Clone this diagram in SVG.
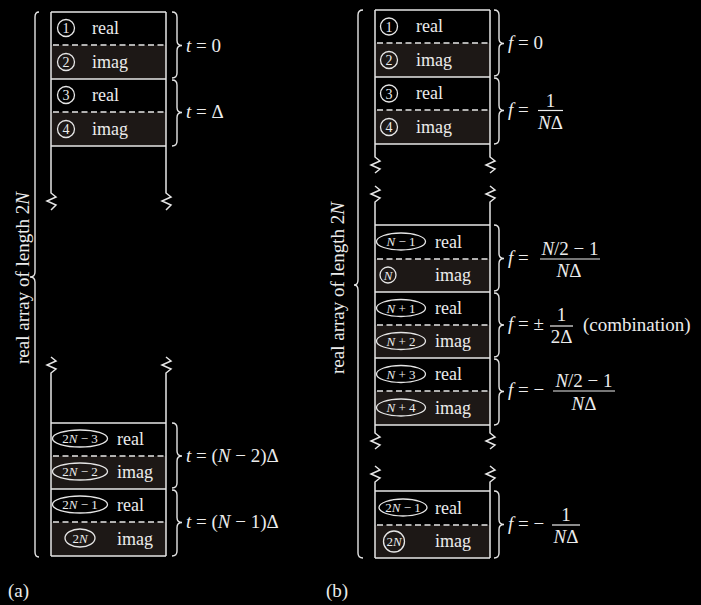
<svg xmlns="http://www.w3.org/2000/svg" width="701" height="605" viewBox="0 0 701 605">
<style>
text{font-family:"Liberation Serif","Times New Roman",serif;fill:#ececec}
.lbl{font-size:18px}
.num{font-size:14px;text-anchor:middle}
.enum{font-size:13px;text-anchor:middle}
.eq{font-size:19px}
.big{font-size:19px;text-anchor:middle}
.c{text-anchor:middle}
.i{font-style:italic}
.ln{stroke:#e6e6e6;stroke-width:1.5;fill:none}
.ds{stroke:#e6e6e6;stroke-width:1.5;stroke-dasharray:6 3.5;fill:none}
.im{fill:#1d1816}
.mk{stroke:#e6e6e6;stroke-width:1.3;fill:none}
.br{stroke:#e6e6e6;stroke-width:1.4;fill:none}
.bar{stroke:#ececec;stroke-width:1.2}
</style>
<rect width="701" height="605" fill="#000"/>

<g id="fills">
<rect class="im" x="51" y="45" width="115" height="34"/>
<rect class="im" x="51" y="112" width="115" height="34"/>
<rect class="im" x="51" y="456" width="115" height="33"/>
<rect class="im" x="51" y="522" width="115" height="34"/>
<rect class="im" x="375" y="43" width="115" height="34"/>
<rect class="im" x="375" y="110" width="115" height="34"/>
<rect class="im" x="375" y="259" width="115" height="33"/>
<rect class="im" x="375" y="325" width="115" height="33"/>
<rect class="im" x="375" y="391" width="115" height="34"/>
<rect class="im" x="375" y="525" width="115" height="33"/>
</g>

<g id="frame-a">
<path class="ln" d="M51,12 V193 l5,4 l-9,4 l9,4 l-5,5"/>
<path class="ln" d="M166,12 V193 l5,4 l-9,4 l9,4 l-5,5"/>
<path class="ln" d="M51,357 l5,4 l-9,4 l9,4 l-5,4 V556"/>
<path class="ln" d="M166,357 l5,4 l-9,4 l9,4 l-5,4 V556"/>
<path class="ln" d="M51,12 H166 M51,79 H166 M51,146 H166 M51,423 H166 M51,489 H166 M51,556 H166"/>
<path class="ds" d="M53,45 H166 M53,112 H166 M53,456 H166 M53,522 H166"/>
</g>
<g id="frame-b">
<path class="ln" d="M375,10 V157 l5,4 l-9,4 l9,4 l-5,4"/>
<path class="ln" d="M490,10 V157 l5,4 l-9,4 l9,4 l-5,4"/>
<path class="ln" d="M375,186 l5,4 l-9,4 l9,4 l-5,4 V433 l5,4 l-9,4 l9,4 l-5,4"/>
<path class="ln" d="M490,186 l5,4 l-9,4 l9,4 l-5,4 V433 l5,4 l-9,4 l9,4 l-5,4"/>
<path class="ln" d="M375,466 l5,4 l-9,4 l9,4 l-5,4 V558"/>
<path class="ln" d="M490,466 l5,4 l-9,4 l9,4 l-5,4 V558"/>
<path class="ln" d="M375,10 H490 M375,77 H490 M375,144 H490 M375,225 H490 M375,292 H490 M375,358 H490 M375,425 H490 M375,491 H490 M375,558 H490"/>
<path class="ds" d="M377,43 H490 M377,110 H490 M377,259 H490 M377,325 H490 M377,391 H490 M377,525 H490"/>
</g>

<g id="a1"><circle class="mk" cx="66" cy="28" r="8.5"/><text class="num" x="66" y="33">1</text><text class="lbl" x="92" y="34">real</text></g>
<g id="a2"><circle class="mk" cx="66" cy="62" r="8.5"/><text class="num" x="66" y="67">2</text><text class="lbl" x="92" y="67.5">imag</text></g>
<g id="a3"><circle class="mk" cx="66" cy="95" r="8.5"/><text class="num" x="66" y="100">3</text><text class="lbl" x="92" y="101">real</text></g>
<g id="a4"><circle class="mk" cx="66" cy="129" r="8.5"/><text class="num" x="66" y="134">4</text><text class="lbl" x="92" y="134.5">imag</text></g>
<g id="a5"><ellipse class="mk" cx="80" cy="438.5" rx="27.5" ry="8.5"/><text class="enum" x="80" y="443">2<tspan class="i">N</tspan> − 3</text><text class="lbl" x="117" y="445">real</text></g>
<g id="a6"><ellipse class="mk" cx="80" cy="471.5" rx="27.5" ry="8.5"/><text class="enum" x="80" y="476">2<tspan class="i">N</tspan> − 2</text><text class="lbl" x="117" y="478">imag</text></g>
<g id="a7"><ellipse class="mk" cx="80" cy="504.5" rx="27.5" ry="8.5"/><text class="enum" x="80" y="509">2<tspan class="i">N</tspan> − 1</text><text class="lbl" x="117" y="511">real</text></g>
<g id="a8"><ellipse class="mk" cx="80" cy="538" rx="15" ry="9"/><text class="enum" x="80" y="542.5">2<tspan class="i">N</tspan></text><text class="lbl" x="117" y="544.5">imag</text></g>

<g id="b1"><circle class="mk" cx="389" cy="26.5" r="8.5"/><text class="num" x="389" y="31.5">1</text><text class="lbl" x="416" y="32">real</text></g>
<g id="b2"><circle class="mk" cx="389" cy="60" r="8.5"/><text class="num" x="389" y="65">2</text><text class="lbl" x="416" y="65.5">imag</text></g>
<g id="b3"><circle class="mk" cx="389" cy="93.5" r="8.5"/><text class="num" x="389" y="98.5">3</text><text class="lbl" x="416" y="99">real</text></g>
<g id="b4"><circle class="mk" cx="389" cy="127" r="8.5"/><text class="num" x="389" y="132">4</text><text class="lbl" x="416" y="132.5">imag</text></g>
<g id="b5"><ellipse class="mk" cx="401" cy="241.5" rx="24.5" ry="8.5"/><text class="enum" x="401" y="246"><tspan class="i">N</tspan> − 1</text><text class="lbl" x="435" y="247.5">real</text></g>
<g id="b6"><circle class="mk" cx="388" cy="275" r="8"/><text class="enum" x="388" y="279.5"><tspan class="i">N</tspan></text><text class="lbl" x="435" y="281">imag</text></g>
<g id="b7"><ellipse class="mk" cx="401" cy="308" rx="24.5" ry="8.5"/><text class="enum" x="401" y="312.5"><tspan class="i">N</tspan> + 1</text><text class="lbl" x="435" y="314">real</text></g>
<g id="b8"><ellipse class="mk" cx="401" cy="341" rx="24.5" ry="8.5"/><text class="enum" x="401" y="345.5"><tspan class="i">N</tspan> + 2</text><text class="lbl" x="435" y="347">imag</text></g>
<g id="b9"><ellipse class="mk" cx="401" cy="374" rx="24.5" ry="8.5"/><text class="enum" x="401" y="378.5"><tspan class="i">N</tspan> + 3</text><text class="lbl" x="435" y="380">real</text></g>
<g id="b10"><ellipse class="mk" cx="401" cy="407.5" rx="24.5" ry="8.5"/><text class="enum" x="401" y="412"><tspan class="i">N</tspan> + 4</text><text class="lbl" x="435" y="413.5">imag</text></g>
<g id="b11"><ellipse class="mk" cx="403" cy="507.5" rx="24" ry="8.5"/><text class="enum" x="403" y="512">2<tspan class="i">N</tspan> − 1</text><text class="lbl" x="435" y="513.5">real</text></g>
<g id="b12"><circle class="mk" cx="394" cy="541.5" r="10.5"/><text class="enum" x="394" y="546">2<tspan class="i">N</tspan></text><text class="lbl" x="435" y="547">imag</text></g>

<g id="connectors">
<path class="br" d="M39,12 Q35,12 35,17 L35,272 Q35,277 30,277 Q35,277 35,282 L35,552 Q35,557 39,557"/>
<path class="br" d="M363,10 Q358,10 358,15 L358,280 Q358,285 354,285 Q358,285 358,290 L358,553 Q358,558 363,558"/>
<path class="br" d="M172,12 Q177,12 177,17 L177,40.5 Q177,45.5 182,45.5 Q177,45.5 177,50.5 L177,73 Q177,78 172,78"/>
<path class="br" d="M172,80 Q177,80 177,85 L177,107.5 Q177,112.5 182,112.5 Q177,112.5 177,117.5 L177,141 Q177,146 172,146"/>
<path class="br" d="M172,423 Q177,423 177,428 L177,451 Q177,456 182,456 Q177,456 177,461 L177,483 Q177,488 172,488"/>
<path class="br" d="M172,490 Q177,490 177,495 L177,517.5 Q177,522.5 182,522.5 Q177,522.5 177,527.5 L177,551 Q177,556 172,556"/>
<path class="br" d="M494,10 Q499,10 499,15 L499,38.5 Q499,43.5 504,43.5 Q499,43.5 499,48.5 L499,71 Q499,76 494,76"/>
<path class="br" d="M494,78 Q499,78 499,83 L499,105.5 Q499,110.5 504,110.5 Q499,110.5 499,115.5 L499,139 Q499,144 494,144"/>
<path class="br" d="M494,225 Q499,225 499,230 L499,253.5 Q499,258.5 504,258.5 Q499,258.5 499,263.5 L499,286 Q499,291 494,291"/>
<path class="br" d="M494,293 Q499,293 499,298 L499,320 Q499,325 504,325 Q499,325 499,330 L499,352 Q499,357 494,357"/>
<path class="br" d="M494,359 Q499,359 499,364 L499,386.5 Q499,391.5 504,391.5 Q499,391.5 499,396.5 L499,420 Q499,425 494,425"/>
<path class="br" d="M494,491 Q499,491 499,496 L499,519.5 Q499,524.5 504,524.5 Q499,524.5 499,529.5 L499,553 Q499,558 494,558"/>
</g>

<g id="labels">
<text class="big" transform="translate(29,278) rotate(-90)">real array of length 2<tspan class="i">N</tspan></text>
<text class="big" transform="translate(344,288) rotate(-90)">real array of length 2<tspan class="i">N</tspan></text>

<text class="eq" x="186" y="52"><tspan class="i">t</tspan> = 0</text>
<text class="eq" x="186" y="118"><tspan class="i">t</tspan> = Δ</text>
<text class="eq" x="186" y="462"><tspan class="i">t</tspan> = (<tspan class="i">N</tspan> − 2)Δ</text>
<text class="eq" x="186" y="528"><tspan class="i">t</tspan> = (<tspan class="i">N</tspan> − 1)Δ</text>

<text class="eq" x="508" y="49"><tspan class="i">f</tspan> = 0</text>

<text class="eq" x="508" y="116"><tspan class="i">f</tspan> = </text>
<text class="eq c" x="550.5" y="106.5">1</text>
<line class="bar" x1="538" y1="110.5" x2="563" y2="110.5"/>
<text class="eq c" x="550.5" y="128.5"><tspan class="i">N</tspan>Δ</text>

<text class="eq" x="508" y="264"><tspan class="i">f</tspan> = </text>
<text class="eq c" x="570" y="255"><tspan class="i">N</tspan>/2 − 1</text>
<line class="bar" x1="540" y1="259" x2="600" y2="259"/>
<text class="eq c" x="569" y="277"><tspan class="i">N</tspan>Δ</text>

<text class="eq" x="508" y="330"><tspan class="i">f</tspan> = ±</text>
<text class="eq c" x="561.5" y="321">1</text>
<line class="bar" x1="550" y1="326" x2="573" y2="326"/>
<text class="eq c" x="561.5" y="343">2Δ</text>
<text class="eq" x="583" y="331">(combination)</text>

<text class="eq" x="508" y="396"><tspan class="i">f</tspan> = −</text>
<text class="eq c" x="584" y="386.5"><tspan class="i">N</tspan>/2 − 1</text>
<line class="bar" x1="553" y1="391" x2="615" y2="391"/>
<text class="eq c" x="584" y="409.5"><tspan class="i">N</tspan>Δ</text>

<text class="eq" x="508" y="529.5"><tspan class="i">f</tspan> = −</text>
<text class="eq c" x="566" y="520.5">1</text>
<line class="bar" x1="552" y1="525" x2="580" y2="525"/>
<text class="eq c" x="566" y="542.5"><tspan class="i">N</tspan>Δ</text>

<text class="eq" x="8" y="597">(a)</text>
<text class="eq" x="326" y="597">(b)</text>
</g>
</svg>
